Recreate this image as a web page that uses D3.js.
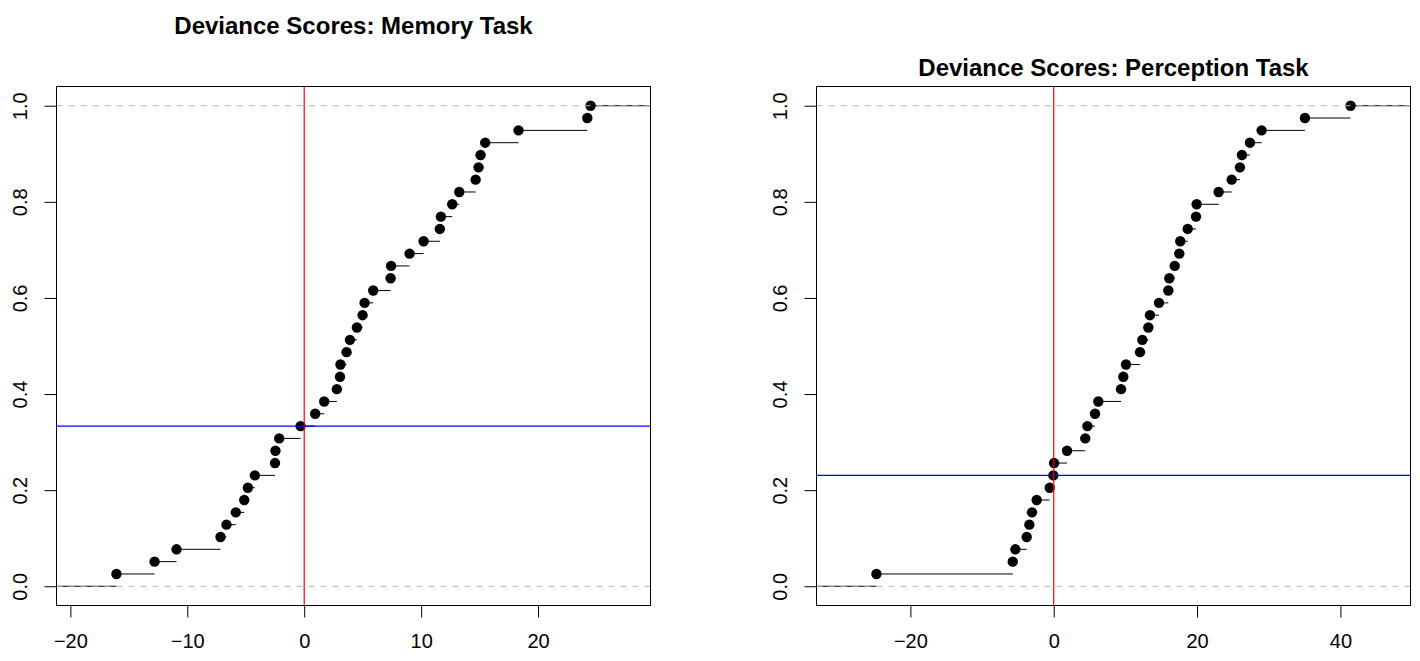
<!DOCTYPE html>
<html>
<head>
<meta charset="utf-8">
<script src="https://cdn.jsdelivr.net/npm/d3@7"></script>
<style>
  body { margin: 0; background: #fff; }
  svg { display: block; }
  text { font-family: "Liberation Sans", Arial, Helvetica, sans-serif; fill: #000; }
</style>
</head>
<body>
<div id="chart"></div>
<script>
// Deviance scores per participant (sorted), one array per task
const memoryScores = [
  -16.06, -12.80, -10.92, -7.16, -6.65, -5.85, -5.13, -4.82, -4.22, -2.50,
  -2.46, -2.14, -0.31, 0.94, 1.71, 2.79, 3.06, 3.10, 3.62, 3.91,
  4.51, 4.99, 5.16, 5.90, 7.39, 7.43, 9.01, 10.21, 11.60, 11.69,
  12.66, 13.26, 14.66, 14.91, 15.08, 15.48, 18.33, 24.21, 24.49
];
const perceptionScores = [
  -24.74, -5.72, -5.35, -3.77, -3.40, -3.03, -2.38, -0.56, -0.05, 0.05,
  1.86, 4.40, 4.70, 5.76, 6.22, 9.39, 9.71, 10.08, 12.04, 12.36,
  13.20, 13.43, 14.69, 15.99, 16.13, 16.88, 17.52, 17.66, 18.69, 19.85,
  19.94, 23.01, 24.83, 25.98, 26.26, 27.38, 29.01, 35.05, 41.42
];
const memoryTicks = [-20, -10, 0, 10, 20];
const perceptionTicks = [-20, 0, 20, 40];
const probTicks = [0, 0.2, 0.4, 0.6, 0.8, 1.0];
const panelTitles = ["Deviance Scores: Memory Task", "Deviance Scores: Perception Task"];

const W = 1420, H = 661;
const svg = d3.select("#chart").append("svg")
  .attr("width", W).attr("height", H)
  .attr("viewBox", `0 0 ${W} ${H}`);
svg.append("rect").attr("width", W).attr("height", H).attr("fill", "#fff");

const panels = [
  { id: "mem", values: memoryScores, ticks: memoryTicks, title: panelTitles[0],
    left: 56.5, right: 650.5, titleY: 34 },
  { id: "per", values: perceptionScores, ticks: perceptionTicks, title: panelTitles[1],
    left: 816.5, right: 1410.5, titleY: 76 }
];
const boxTop = 86.5, boxBottom = 605.5;

panels.forEach(p => {
  const v = p.values.slice().sort((a, b) => a - b);
  const n = v.length;

  // step-function x limits: data range padded by 8% (or median gap), then 4% axis slack
  const lo = v[0], hi = v[n - 1];
  const gaps = d3.pairs(v, (a, b) => b - a);
  const dr = Math.max(0.08 * (hi - lo), d3.median(gaps));
  const xlim = [lo - dr, hi + dr];
  const slack = 0.04 * (xlim[1] - xlim[0]);
  const x = d3.scaleLinear().domain([xlim[0] - slack, xlim[1] + slack]).range([p.left, p.right]);
  const y = d3.scaleLinear().domain([-0.04, 1.04]).range([boxBottom, boxTop]);

  const g = svg.append("g");
  const clipId = "clip-" + p.id;
  svg.append("clipPath").attr("id", clipId)
    .append("rect").attr("x", p.left).attr("y", boxTop)
    .attr("width", p.right - p.left).attr("height", boxBottom - boxTop);
  const plot = g.append("g").attr("clip-path", `url(#${clipId})`);

  // horizontal steps of the empirical CDF
  const knots = [xlim[0] - dr, ...v, xlim[1] + dr];
  const steps = d3.range(n + 1).map(i => ({ x0: knots[i], x1: knots[i + 1], y: i / n }));
  plot.selectAll("line.step").data(steps).join("line")
    .attr("class", "step")
    .attr("x1", d => x(d.x0)).attr("x2", d => x(d.x1))
    .attr("y1", d => y(d.y)).attr("y2", d => y(d.y))
    .attr("stroke", "#000").attr("stroke-width", 1);

  // jump points
  plot.selectAll("circle.pt").data(v).join("circle")
    .attr("class", "pt")
    .attr("cx", d => x(d)).attr("cy", (d, i) => y((i + 1) / n))
    .attr("r", 5.2).attr("fill", "#000");

  // reference lines at F = 0 and F = 1
  plot.selectAll("line.ref01").data([0, 1]).join("line")
    .attr("class", "ref01")
    .attr("x1", p.left).attr("x2", p.right)
    .attr("y1", d => y(d)).attr("y2", d => y(d))
    .attr("stroke", "#b3b3b3").attr("stroke-width", 1)
    .attr("stroke-dasharray", "6,6");

  // zero deviance and the share of scores at or below zero
  const shareBelow = v.filter(d => d <= 0).length / n;
  plot.append("line")
    .attr("x1", x(0)).attr("x2", x(0)).attr("y1", boxTop).attr("y2", boxBottom)
    .attr("stroke", "#ff0000").attr("stroke-width", 1.2);
  plot.append("line")
    .attr("x1", p.left).attr("x2", p.right).attr("y1", y(shareBelow)).attr("y2", y(shareBelow))
    .attr("stroke", "#0000ff").attr("stroke-width", 1.2);

  // frame
  g.append("rect")
    .attr("x", p.left).attr("y", boxTop)
    .attr("width", p.right - p.left).attr("height", boxBottom - boxTop)
    .attr("fill", "none").attr("stroke", "#000").attr("stroke-width", 1);

  // x axis
  const xAxis = g.append("g").attr("transform", `translate(0,${boxBottom})`)
    .call(d3.axisBottom(x).tickValues(p.ticks).tickSize(12).tickPadding(0).tickFormat(d3.format("d")));
  xAxis.select(".domain").remove();
  xAxis.selectAll(".tick line").attr("stroke", "#000");
  xAxis.selectAll(".tick text")
    .attr("y", 42.5).attr("dy", 0)
    .attr("font-size", 20);

  // y axis, labels rotated along the axis
  const yAxis = g.append("g").attr("transform", `translate(${p.left},0)`)
    .call(d3.axisLeft(y).tickValues(probTicks).tickSize(12).tickFormat(d3.format(".1f")));
  yAxis.select(".domain").remove();
  yAxis.selectAll(".tick line").attr("stroke", "#000");
  yAxis.selectAll(".tick text")
    .attr("x", 0).attr("dy", 0)
    .attr("text-anchor", "middle")
    .attr("transform", "translate(-30,0) rotate(-90)")
    .attr("font-size", 20);

  // title
  g.append("text")
    .attr("x", (p.left + p.right) / 2).attr("y", p.titleY)
    .attr("text-anchor", "middle")
    .attr("font-size", 24).attr("font-weight", "bold")
    .text(p.title);
});
</script>
</body>
</html>
